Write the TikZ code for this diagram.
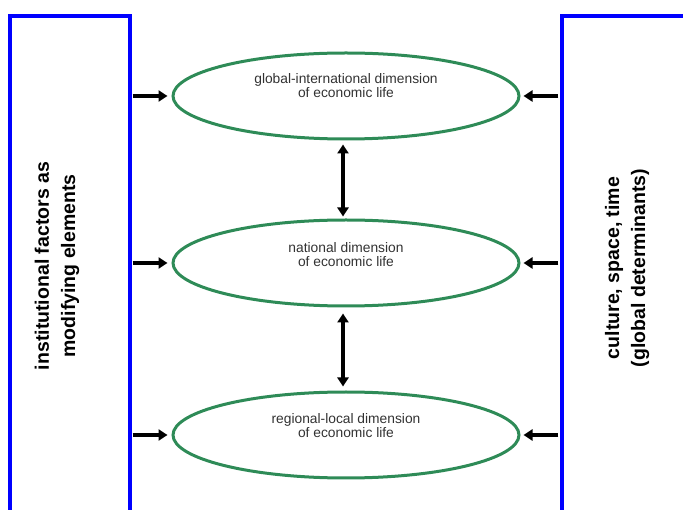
\documentclass[tikz,border=0pt]{standalone}
\usepackage{fontspec}
\setmainfont{Liberation Sans}
\usetikzlibrary{shapes.geometric,arrows.meta}
\definecolor{boxblue}{RGB}{0,0,255}
\definecolor{ellgreen}{RGB}{46,139,87}
\definecolor{txtgray}{RGB}{50,50,50}
\begin{document}
\begin{tikzpicture}[x=1pt,y=-1pt,
  sidebox/.style={draw=boxblue,line width=3.2pt,rectangle,inner sep=0pt},
  dimell/.style={draw=ellgreen,line width=3pt,ellipse,minimum width=346pt,minimum height=86pt,inner sep=0pt},
  dimtxt/.style={text=txtgray,font=\fontsize{13.8}{14}\selectfont,align=center,inner sep=0pt},
  sidetxt/.style={font=\fontsize{19.5}{26}\selectfont\bfseries,align=center,rotate=90,inner sep=0pt},
  arr/.style={line width=3.4pt,-{Triangle[length=9pt,width=11pt]}},
  darr/.style={line width=3.4pt,{Triangle[length=9pt,width=11pt]}-{Triangle[length=9pt,width=11pt]}}]
\useasboundingbox (0,0) rectangle (683,510);
\begin{scope}
\clip (0,0) rectangle (683,510);
\node[sidebox,minimum width=120pt,minimum height=514pt] (lbox) at (70,273) {};
\node[sidebox,minimum width=138pt,minimum height=514pt] (rbox) at (631,273) {};
\end{scope}
\node[sidetxt] (ltxt) at (57,266) {institutional factors as\\modifying elements};
\node[sidetxt] (rtxt) at (627,268) {culture, space, time\\(global determinants)};
\node[dimell] (e1) at (346,96) {};
\node[dimell] (e2) at (346,263) {};
\node[dimell] (e3) at (346,435) {};
\node[dimtxt] (t1) at (346,86) {global-international dimension\\of economic life};
\node[dimtxt] (t2) at (346,255) {national dimension\\of economic life};
\node[dimtxt] (t3) at (346,426) {regional-local dimension\\of economic life};
\foreach \e in {e1,e2,e3}{
  \draw[arr,shorten <=1pt,shorten >=4pt] (lbox.east |- \e.west) -- (\e.west);
  \draw[arr,shorten <=2pt,shorten >=3pt] (rbox.west |- \e.east) -- (\e.east);
}
\draw[darr,shorten <=4pt,shorten >=2pt] ([xshift=-3pt]e1.south) -- ([xshift=-3pt]e2.north);
\draw[darr,shorten <=6pt,shorten >=4pt] ([xshift=-3pt]e2.south) -- ([xshift=-3pt]e3.north);
\end{tikzpicture}
\end{document}
